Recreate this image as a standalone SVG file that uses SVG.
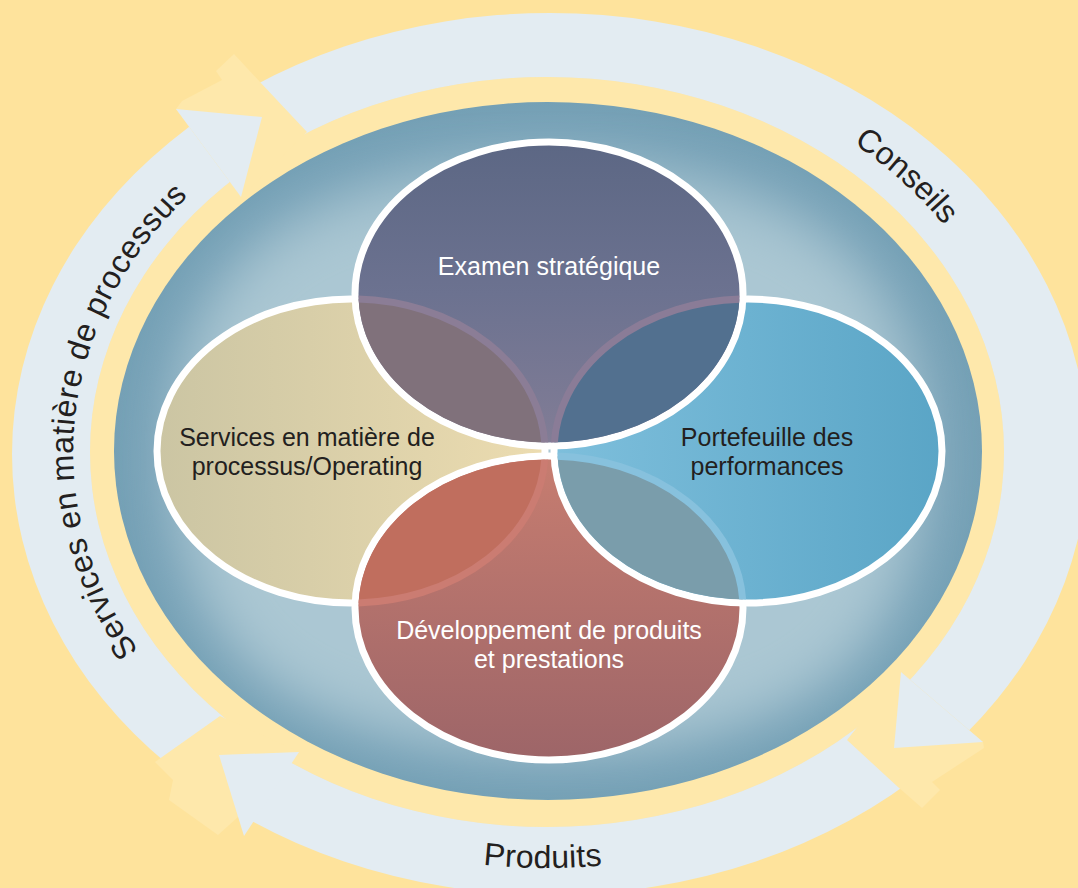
<svg xmlns="http://www.w3.org/2000/svg" width="1078" height="888" viewBox="0 0 1078 888">
<style>
.ring-lbl{font-family:"Liberation Sans",Arial,sans-serif;font-size:32px;fill:#231f20}
.node-lbl{font-family:"Liberation Sans",Arial,sans-serif;font-size:25px;text-anchor:middle}
.light{fill:#ffffff}
.dark{fill:#231f20}
.outline{fill:none;stroke:#ffffff;stroke-width:7}
.pale{fill:#fee8ab}
.band{fill:#e3ecf2}
</style>
<defs>
<radialGradient id="gHub" cx="0.5" cy="0.5" r="0.5">
<stop offset="0" stop-color="#9ebecd"/>
<stop offset="0.8" stop-color="#89aec0"/>
<stop offset="0.93" stop-color="#79a3b8"/>
<stop offset="1" stop-color="#74a0b5"/>
</radialGradient>
<filter id="fGlow" x="-20%" y="-20%" width="140%" height="140%">
<feGaussianBlur stdDeviation="30"/>
</filter>
<linearGradient id="gTop" x1="0" y1="0" x2="0" y2="1">
<stop offset="0" stop-color="#5c6784"/>
<stop offset="0.5" stop-color="#6c7290"/>
<stop offset="1" stop-color="#827d96"/>
</linearGradient>
<linearGradient id="gLeft" x1="0" y1="0" x2="1" y2="0">
<stop offset="0" stop-color="#cbc5a3"/>
<stop offset="1" stop-color="#ecdcb0"/>
</linearGradient>
<linearGradient id="gRight" x1="0" y1="0" x2="1" y2="0">
<stop offset="0" stop-color="#7ebfdc"/>
<stop offset="1" stop-color="#5aa5c6"/>
</linearGradient>
<linearGradient id="gBottom" x1="0" y1="0" x2="0" y2="1">
<stop offset="0" stop-color="#c77d70"/>
<stop offset="1" stop-color="#9d6568"/>
</linearGradient>
<clipPath id="cHub"><ellipse cx="548" cy="451" rx="434" ry="349"/></clipPath>
<clipPath id="cTop"><ellipse cx="549" cy="294" rx="190.5" ry="148.5"/></clipPath>
<clipPath id="cBottom"><ellipse cx="549" cy="608" rx="190.5" ry="148.5"/></clipPath>
<clipPath id="cRight"><ellipse cx="748" cy="451" rx="190.5" ry="148.5"/></clipPath>
<path id="pCW" d="M547,844 A474,392 0 0 1 547,60 A474,392 0 0 1 547,844"/>
<path id="pCW2" d="M547,852 A482,400 0 0 1 547,52 A482,400 0 0 1 547,852"/>
<path id="pCCW" d="M47,452 A500,416 0 0 0 1047,452 A500,416 0 0 0 47,452"/>
</defs>

<rect width="1078" height="888" fill="#fee39c"/>

<g id="connectors">
<ellipse cx="547" cy="452" rx="457" ry="375" class="pale"/>
<path class="band" fill-rule="evenodd" d="M12,454 A538,441 0 1 0 1088,454 A538,441 0 1 0 12,454 Z M90,452 A457,375 0 1 0 1004,452 A457,375 0 1 0 90,452 Z"/>
<polygon class="pale" points="176,109 182,101 222,80 216,71 234,54 260,82 307,132 241,197"/>
<polygon class="pale" points="901,672 983,742 984,748 932,782 940,790 922,808 898,787 847,740"/>
<polygon class="pale" points="220,716 162,757 155,762 173,780 169,800 218,835 238,817 299,752"/>
<polygon class="band" points="176,109 262,117 241,197"/>
<polygon class="band" points="901,672 983,742 894,748"/>
<polygon class="band" points="299,752 219,755 244,836"/>
</g>

<g id="label-services-processus">
<text class="ring-lbl" letter-spacing="0.6"><textPath href="#pCW" startOffset="26.4%" text-anchor="middle">Services en matière de processus</textPath></text>
</g>
<g id="label-conseils">
<text class="ring-lbl"><textPath href="#pCW2" startOffset="63.9%" text-anchor="middle">Conseils</textPath></text>
</g>
<g id="label-produits">
<text class="ring-lbl" font-size="33" letter-spacing="0.3"><textPath href="#pCCW" startOffset="24.85%" text-anchor="middle">Produits</textPath></text>
</g>

<g id="hub">
<ellipse cx="548" cy="451" rx="434" ry="349" fill="url(#gHub)"/>
<g clip-path="url(#cHub)">
<path fill="#abc7d3" filter="url(#fGlow)" d="M914,462 C914,662 812,742 548,742 C284,742 182,662 182,462 C182,262 284,182 548,182 C812,182 914,262 914,462 Z"/>
</g>
</g>

<g id="node-operating">
<ellipse cx="351" cy="451" rx="194" ry="152" fill="url(#gLeft)"/>
<ellipse cx="351" cy="451" rx="194" ry="152" class="outline"/>
<text class="node-lbl dark" x="307" y="446">Services en matière de</text>
<text class="node-lbl dark" x="307" y="475">processus/Operating</text>
</g>

<g id="node-developpement">
<ellipse cx="549" cy="608" rx="194" ry="152" fill="url(#gBottom)"/>
<ellipse cx="549" cy="608" rx="194" ry="152" class="outline"/>
<g clip-path="url(#cBottom)">
<ellipse cx="351" cy="451" rx="194" ry="152" fill="#c06e5e"/>
<ellipse cx="351" cy="451" rx="194" ry="152" fill="none" stroke="#cb7c72" stroke-width="7"/>
</g>
<text class="node-lbl light" x="549" y="639">Développement de produits</text>
<text class="node-lbl light" x="549" y="668">et prestations</text>
</g>

<g id="node-portefeuille">
<ellipse cx="748" cy="451" rx="194" ry="152" fill="url(#gRight)"/>
<ellipse cx="748" cy="451" rx="194" ry="152" class="outline"/>
<g clip-path="url(#cRight)">
<ellipse cx="549" cy="608" rx="194" ry="152" fill="#7a9dab"/>
<ellipse cx="549" cy="608" rx="194" ry="152" fill="none" stroke="#87c1dd" stroke-width="7"/>
</g>
<text class="node-lbl dark" x="767" y="446">Portefeuille des</text>
<text class="node-lbl dark" x="767" y="475">performances</text>
</g>

<g id="node-examen">
<ellipse cx="549" cy="294" rx="194" ry="152" fill="url(#gTop)"/>
<ellipse cx="549" cy="294" rx="194" ry="152" class="outline"/>
<g clip-path="url(#cTop)">
<ellipse cx="351" cy="451" rx="194" ry="152" fill="#80717b"/>
<ellipse cx="351" cy="451" rx="194" ry="152" fill="none" stroke="#8b7d96" stroke-width="7"/>
<ellipse cx="748" cy="451" rx="194" ry="152" fill="#52708f"/>
<ellipse cx="748" cy="451" rx="194" ry="152" fill="none" stroke="#8a7c97" stroke-width="7"/>
</g>
<text class="node-lbl light" x="549" y="275">Examen stratégique</text>
</g>
</svg>
